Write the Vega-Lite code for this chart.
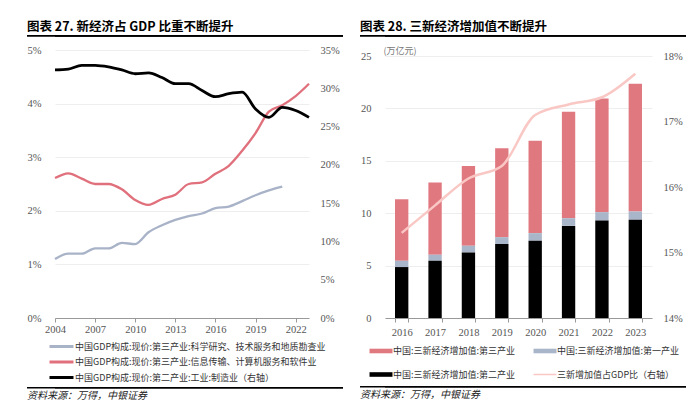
{
  "$schema": "https://vega.github.io/schema/vega-lite/v6.json",
  "background": "white",
  "padding": {"left": 27, "top": 20, "right": 0, "bottom": 0},
  "config": {
    "view": {"stroke": null},
    "font": "Noto Sans CJK SC",
    "axis": {"labelFont": "Liberation Serif", "labelFontSize": 10.5, "labelColor": "#555555", "domainColor": "#999999", "tickColor": "#999999", "gridColor": "#eeeeee", "gridWidth": 1},
    "legend": {"labelFont": "Noto Sans CJK SC", "labelFontSize": 9, "labelColor": "#333333", "labelLimit": 400},
    "title": {"font": "Noto Sans CJK SC"}
  },
  "datasets": {
    "gdp": [
      {"year": 2004, "sci": 1.10, "info": 2.61, "mfg": 32.4},
      {"year": 2005, "sci": 1.20, "info": 2.70, "mfg": 32.5},
      {"year": 2006, "sci": 1.20, "info": 2.60, "mfg": 33.0},
      {"year": 2007, "sci": 1.30, "info": 2.50, "mfg": 33.0},
      {"year": 2008, "sci": 1.30, "info": 2.50, "mfg": 32.8},
      {"year": 2009, "sci": 1.40, "info": 2.40, "mfg": 32.4},
      {"year": 2010, "sci": 1.38, "info": 2.20, "mfg": 31.9},
      {"year": 2011, "sci": 1.60, "info": 2.11, "mfg": 32.0},
      {"year": 2012, "sci": 1.73, "info": 2.22, "mfg": 31.4},
      {"year": 2013, "sci": 1.83, "info": 2.30, "mfg": 30.6},
      {"year": 2014, "sci": 1.90, "info": 2.50, "mfg": 30.6},
      {"year": 2015, "sci": 1.95, "info": 2.53, "mfg": 29.7},
      {"year": 2016, "sci": 2.05, "info": 2.69, "mfg": 28.9},
      {"year": 2017, "sci": 2.08, "info": 2.84, "mfg": 29.3},
      {"year": 2018, "sci": 2.18, "info": 3.12, "mfg": 29.5},
      {"year": 2019, "sci": 2.29, "info": 3.45, "mfg": 27.3},
      {"year": 2020, "sci": 2.38, "info": 3.85, "mfg": 26.2},
      {"year": 2021, "sci": 2.45, "info": 3.97, "mfg": 27.5},
      {"year": 2022, "info": 4.14, "mfg": 27.1},
      {"year": 2023, "info": 4.37, "mfg": 26.2}
    ],
    "sanxin": [
      {"year": 2016, "second": 4.86, "first": 0.60, "third": 5.87, "ratio": 15.30},
      {"year": 2017, "second": 5.46, "first": 0.57, "third": 6.89, "ratio": 15.72},
      {"year": 2018, "second": 6.25, "first": 0.64, "third": 7.61, "ratio": 16.13},
      {"year": 2019, "second": 7.05, "first": 0.66, "third": 8.48, "ratio": 16.32},
      {"year": 2020, "second": 7.37, "first": 0.73, "third": 8.82, "ratio": 17.10},
      {"year": 2021, "second": 8.79, "first": 0.73, "third": 10.16, "ratio": 17.26},
      {"year": 2022, "second": 9.30, "first": 0.80, "third": 10.85, "ratio": 17.37},
      {"year": 2023, "second": 9.37, "first": 0.79, "third": 12.19, "ratio": 17.73}
    ]
  },
  "spacing": 17,
  "resolve": {"scale": {"color": "independent", "x": "independent", "y": "independent"}, "legend": {"color": "independent"}},
  "hconcat": [
    {
      "spacing": 8,
      "resolve": {"scale": {"x": "independent", "y": "independent"}},
      "vconcat": [
        {
          "title": {"text": "图表 27. 新经济占 GDP 比重不断提升", "anchor": "start", "frame": "bounds", "fontSize": 12.5, "fontWeight": "bold", "color": "#000000", "offset": 2},
          "view": {"fill": "#000000", "stroke": null},
          "data": {"values": [{"v": 0}]},
          "width": 288,
          "height": 1.8,
          "mark": {"type": "rect", "color": "#000000"},
          "encoding": {
            "x": {"datum": -28, "type": "quantitative", "scale": {"domain": [0, 288], "nice": false, "zero": false}, "axis": null},
            "x2": {"datum": 288}
          }
        },
        {
          "width": 254,
          "height": 268,
          "data": {"name": "gdp"},
          "transform": [{"fold": ["sci", "info", "mfg"], "as": ["series", "value"]}],
          "layer": [
            {
              "transform": [{"filter": "datum.series !== 'mfg'"}],
              "mark": {"type": "line", "interpolate": "monotone", "strokeWidth": 2.3},
              "encoding": {
                "x": {"field": "year", "type": "quantitative", "scale": {"domain": [2004, 2023], "nice": false}, "axis": {"values": [2004, 2007, 2010, 2013, 2016, 2019, 2022], "format": "d", "title": null, "grid": false, "tickSize": 4, "labelPadding": 2, "labelFlush": false}},
                "y": {"field": "value", "type": "quantitative", "scale": {"domain": [0, 5], "nice": false}, "axis": {"values": [0, 1, 2, 3, 4, 5], "labelExpr": "datum.value + '%'", "title": null, "domain": false, "ticks": false, "grid": true, "labelPadding": 14}},
                "color": {
                  "field": "series", "type": "nominal",
                  "scale": {"domain": ["sci", "info", "mfg"], "range": ["#a9b3c8", "#e0707c", "#000000"]},
                  "legend": {
                    "orient": "none", "legendX": -1, "legendY": 304, "direction": "vertical", "title": null,
                    "symbolType": "M-2,0H2", "symbolSize": 144, "symbolStrokeWidth": 3, "labelOffset": 6, "rowPadding": 1.5,
                    "labelExpr": "datum.value === 'sci' ? '中国GDP构成:现价:第三产业:科学研究、技术服务和地质勘查业' : datum.value === 'info' ? '中国GDP构成:现价:第三产业:信息传输、计算机服务和软件业' : '中国GDP构成:现价:第二产业:工业:制造业（右轴）'"
                  }
                }
              }
            },
            {
              "transform": [{"filter": "datum.series === 'mfg'"}],
              "mark": {"type": "line", "interpolate": "monotone", "strokeWidth": 2.8},
              "encoding": {
                "x": {"field": "year", "type": "quantitative"},
                "y": {"field": "value", "type": "quantitative", "scale": {"domain": [0, 35], "nice": false}, "axis": {"orient": "right", "values": [0, 5, 10, 15, 20, 25, 30, 35], "labelExpr": "datum.value + '%'", "title": null, "domain": false, "ticks": false, "grid": false, "labelPadding": 11}},
                "color": {"field": "series", "type": "nominal"}
              }
            }
          ],
          "resolve": {"scale": {"y": "independent"}}
        },
        {
          "data": {"values": [{"v": 0}]},
          "width": 1,
          "height": 36,
          "mark": {"type": "point", "opacity": 0, "size": 0},
          "encoding": {}
        },
        {
          "title": {"text": "资料来源：万得，中银证券", "orient": "bottom", "anchor": "start", "frame": "bounds", "fontSize": 10, "fontStyle": "italic", "fontWeight": "normal", "color": "#222222", "offset": 2},
          "view": {"fill": "#000000", "stroke": null},
          "data": {"values": [{"v": 0}]},
          "width": 288,
          "height": 1.5,
          "mark": {"type": "rect", "color": "#000000"},
          "encoding": {
            "x": {"datum": -28, "type": "quantitative", "scale": {"domain": [0, 288], "nice": false, "zero": false}, "axis": null},
            "x2": {"datum": 288}
          }
        }
      ]
    },
    {
      "spacing": 9,
      "resolve": {"scale": {"x": "independent", "y": "independent"}},
      "vconcat": [
        {
          "title": {"text": "图表 28. 三新经济增加值不断提升", "anchor": "start", "frame": "bounds", "fontSize": 12.5, "fontWeight": "bold", "color": "#000000", "offset": 2},
          "view": {"fill": "#000000", "stroke": null},
          "data": {"values": [{"v": 0}]},
          "width": 301,
          "height": 1.8,
          "mark": {"type": "rect", "color": "#000000"},
          "encoding": {
            "x": {"datum": -25, "type": "quantitative", "scale": {"domain": [0, 301], "nice": false, "zero": false}, "axis": null},
            "x2": {"datum": 301}
          }
        },
        {
          "width": 267,
          "height": 262,
          "data": {"name": "sanxin"},
          "layer": [
            {
              "transform": [
                {"fold": ["third", "first", "second"], "as": ["series", "value"]},
                {"calculate": "indexof(['second', 'first', 'third'], datum.series)", "as": "ord"}
              ],
              "mark": {"type": "bar"},
              "encoding": {
                "x": {"field": "year", "type": "ordinal", "scale": {"paddingInner": 0.6, "paddingOuter": 0.3}, "axis": {"title": null, "labelAngle": 0, "tickBand": "extent", "tickSize": 4, "labelPadding": 5}},
                "y": {"field": "value", "type": "quantitative", "stack": "zero", "scale": {"domain": [0, 25], "nice": false}, "axis": {"values": [0, 5, 10, 15, 20, 25], "title": "(万亿元)", "titleAngle": 0, "titleAlign": "left", "titleBaseline": "middle", "titleX": -2, "titleY": -6, "titleFontSize": 9, "titleFontWeight": "normal", "titleColor": "#777777", "titleFont": "Noto Sans CJK SC", "domain": false, "ticks": false, "grid": true, "labelPadding": 14}},
                "color": {
                  "field": "series", "type": "nominal",
                  "scale": {"domain": ["third", "first", "second", "ratio"], "range": ["#e07880", "#a9b5c8", "#000000", "#f9c8c5"]},
                  "legend": {
                    "orient": "none", "legendX": -10, "legendY": 310, "direction": "horizontal", "columns": 2, "title": null,
                    "symbolType": "M-2,-0.4H2V0.4H-2Z", "symbolSize": 132, "symbolStrokeWidth": 0, "labelOffset": 6, "columnPadding": 17, "rowPadding": 12.5,
                    "labelExpr": "datum.value === 'third' ? '中国:三新经济增加值:第三产业' : datum.value === 'first' ? '中国:三新经济增加值:第一产业' : datum.value === 'second' ? '中国:三新经济增加值:第二产业' : '三新增加值占GDP比（右轴）'",
                    "encode": {"symbols": {"update": {"shape": {"signal": "datum.value === 'ratio' ? 'M-2,-0.13H2V0.13H-2Z' : 'M-2,-0.4H2V0.4H-2Z'"}}}}
                  }
                },
                "order": {"field": "ord", "type": "quantitative"}
              }
            },
            {
              "mark": {"type": "line", "interpolate": "monotone", "strokeWidth": 2.5},
              "encoding": {
                "x": {"field": "year", "type": "ordinal"},
                "y": {"field": "ratio", "type": "quantitative", "scale": {"domain": [14, 18], "nice": false}, "axis": {"orient": "right", "values": [14, 15, 16, 17, 18], "labelExpr": "datum.value + '%'", "title": null, "domain": false, "ticks": false, "grid": false, "labelPadding": 11}},
                "color": {"datum": "ratio", "type": "nominal"}
              }
            }
          ],
          "resolve": {"scale": {"y": "independent"}}
        },
        {
          "data": {"values": [{"v": 0}]},
          "width": 1,
          "height": 30,
          "mark": {"type": "point", "opacity": 0, "size": 0},
          "encoding": {}
        },
        {
          "title": {"text": "资料来源：万得，中银证券", "orient": "bottom", "anchor": "start", "frame": "bounds", "fontSize": 10, "fontStyle": "italic", "fontWeight": "normal", "color": "#222222", "offset": 2},
          "view": {"fill": "#000000", "stroke": null},
          "data": {"values": [{"v": 0}]},
          "width": 301,
          "height": 1.5,
          "mark": {"type": "rect", "color": "#000000"},
          "encoding": {
            "x": {"datum": -25, "type": "quantitative", "scale": {"domain": [0, 301], "nice": false, "zero": false}, "axis": null},
            "x2": {"datum": 301}
          }
        }
      ]
    }
  ]
}
